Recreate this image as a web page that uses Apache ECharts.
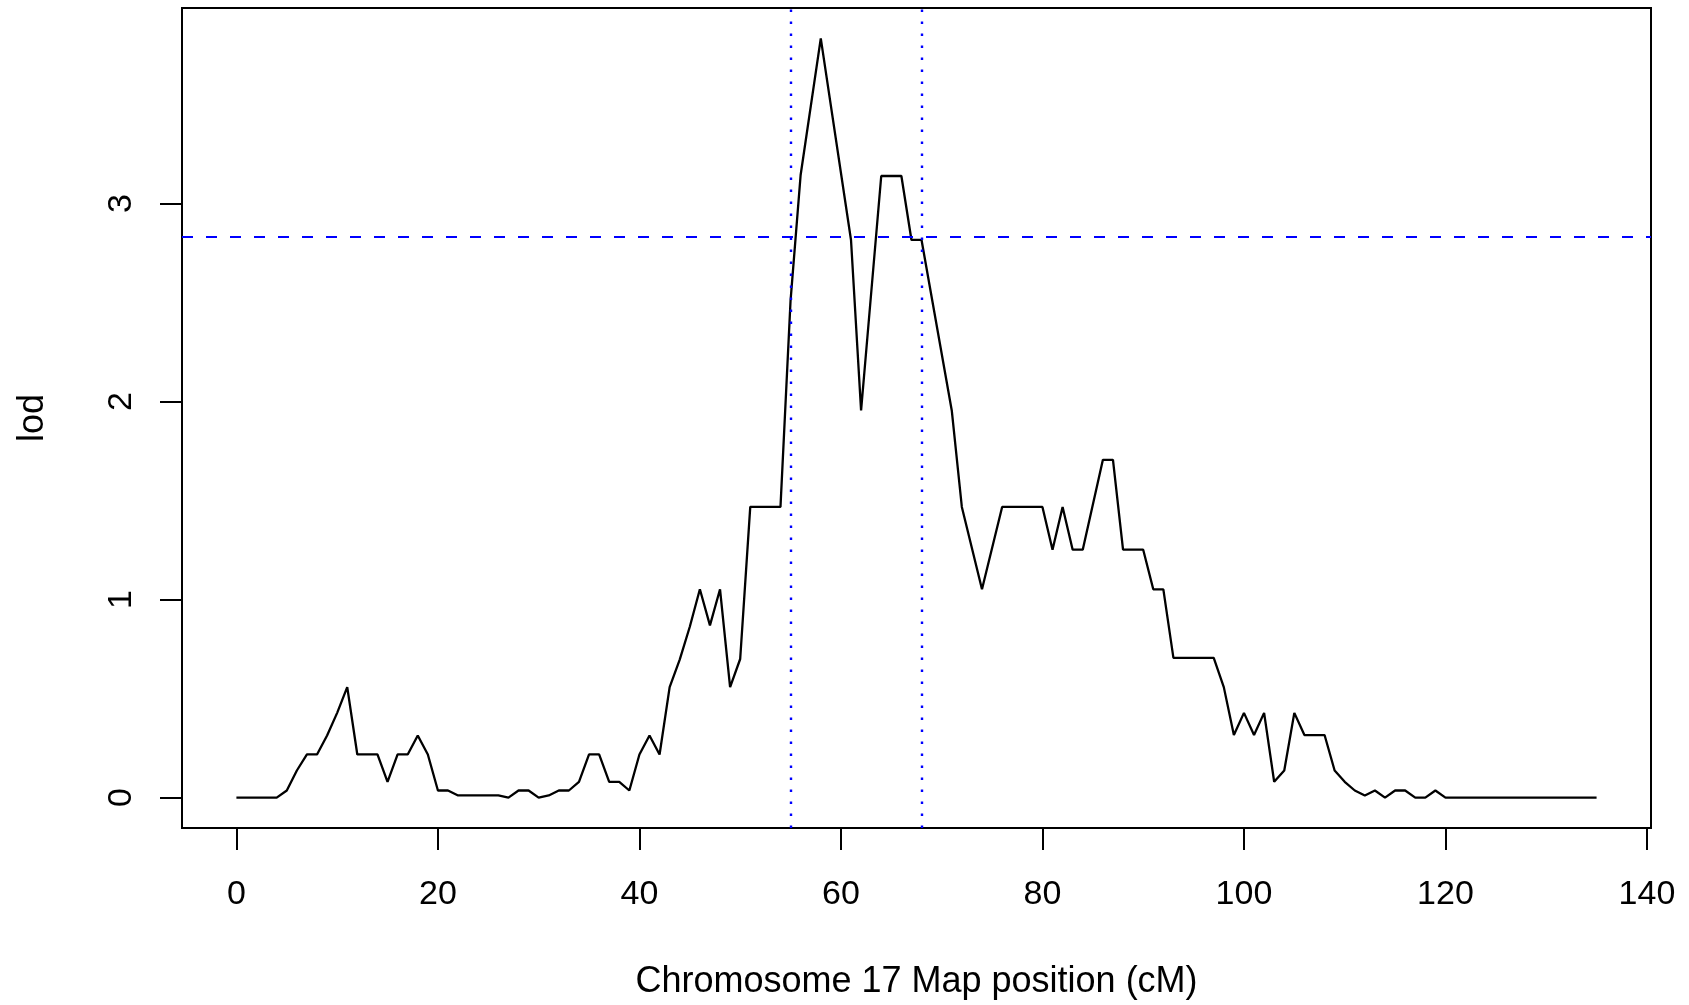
<!DOCTYPE html>
<html>
<head>
<meta charset="utf-8">
<script src="https://cdn.jsdelivr.net/npm/echarts@6/dist/echarts.min.js"></script>
<style>
html,body{margin:0;padding:0;background:#fff;}
#chart{width:1689px;height:1005px;}
</style>
</head>
<body>
<div id="chart"></div>
<script>
// Map positions (cM) and LOD scores
var positions = [0,1,2,3,4,5,6,7,8,9,10,11,12,13,14,15,16,17,18,19,20,21,22,23,24,25,26,27,28,29,30,31,32,33,34,35,36,37,38,39,40,41,42,43,44,45,46,47,48,49,50,51,52,53,54,55,56,58,61,62,64,65,66,67,68,71,72,74,76,77,78,79,80,81,82,83,84,86,87,88,89,90,91,92,93,94,95,96,97,98,99,100,101,102,103,104,105,106,107,108,109,110,111,112,113,114,115,116,117,118,119,120,135];
var lod = [0,0,0,0,0,0.036,0.137,0.218,0.218,0.314,0.428,0.558,0.218,0.218,0.218,0.080,0.218,0.218,0.314,0.218,0.036,0.036,0.011,0.011,0.011,0.011,0.011,0,0.036,0.036,0,0.011,0.036,0.036,0.080,0.218,0.218,0.080,0.080,0.036,0.218,0.314,0.218,0.558,0.697,0.863,1.052,0.870,1.052,0.558,0.700,1.468,1.468,1.468,1.468,2.510,3.144,3.834,2.816,1.955,3.139,3.139,3.139,2.816,2.816,1.955,1.468,1.052,1.468,1.468,1.468,1.468,1.468,1.252,1.468,1.252,1.252,1.706,1.706,1.252,1.252,1.252,1.052,1.052,0.706,0.706,0.706,0.706,0.706,0.558,0.316,0.428,0.316,0.428,0.080,0.137,0.428,0.316,0.316,0.316,0.137,0.080,0.036,0.011,0.036,0,0.036,0.036,0,0,0.036,0,0];
var xTicks = [0,20,40,60,80,100,120,140];
var yTicks = [0,1,2,3];
var thresholdLod = [2.83];
var intervalBounds = [55, 68];

var seriesData = positions.map(function(p, i){ return [p, lod[i]]; });
var xMin = -0.04 * 135, xMax = 135 * 1.04;
var yMax = Math.max.apply(null, lod);
var yMinAxis = -0.04 * yMax, yMaxAxis = yMax * 1.04;

var FONT = 'Liberation Sans';
var FS = 34;
var NAME_FS = 36;

var markData = [];
thresholdLod.forEach(function(v){
  markData.push({yAxis: v, lineStyle: {color: '#0000ff', width: 2.2, type: [11, 13]}});
});
intervalBounds.forEach(function(v){
  markData.push({xAxis: v, lineStyle: {color: '#0000ff', width: 2.4, type: [2.4, 9.6]}});
});

var chart = echarts.init(document.getElementById('chart'), null, {renderer: 'canvas'});
chart.setOption({
  animation: false,
  backgroundColor: '#ffffff',
  grid: {left: 182, right: 38, top: 8, bottom: 177, show: true, borderColor: '#000', borderWidth: 2, backgroundColor: 'transparent'},
  xAxis: {
    type: 'value', min: xMin, max: xMax,
    name: 'Chromosome 17 Map position (cM)', nameLocation: 'middle', nameGap: 136,
    nameTextStyle: {fontFamily: FONT, fontSize: NAME_FS, color: '#000'},
    axisLine: {show: true, onZero: false, lineStyle: {color: '#000', width: 2}},
    axisTick: {show: true, length: 22, inside: false, customValues: xTicks, lineStyle: {color: '#000', width: 2}},
    axisLabel: {show: true, customValues: xTicks, margin: 50, fontFamily: FONT, fontSize: FS, color: '#000'},
    splitLine: {show: false}
  },
  yAxis: {
    type: 'value', min: yMinAxis, max: yMaxAxis,
    name: 'lod', nameLocation: 'middle', nameGap: 131, nameRotate: 90,
    nameTextStyle: {fontFamily: FONT, fontSize: NAME_FS, color: '#000'},
    axisLine: {show: true, onZero: false, lineStyle: {color: '#000', width: 2}},
    axisTick: {show: true, length: 22, inside: false, customValues: yTicks, lineStyle: {color: '#000', width: 2}},
    axisLabel: {show: true, customValues: yTicks, rotate: 90, margin: 43, fontFamily: FONT, fontSize: FS, color: '#000'},
    splitLine: {show: false}
  },
  series: [{
    type: 'line',
    data: seriesData,
    showSymbol: false,
    symbol: 'none',
    lineStyle: {color: '#000', width: 2.3},
    markLine: {silent: true, symbol: ['none','none'], label: {show: false}, animation: false, data: markData}
  }]
});
</script>
</body>
</html>
